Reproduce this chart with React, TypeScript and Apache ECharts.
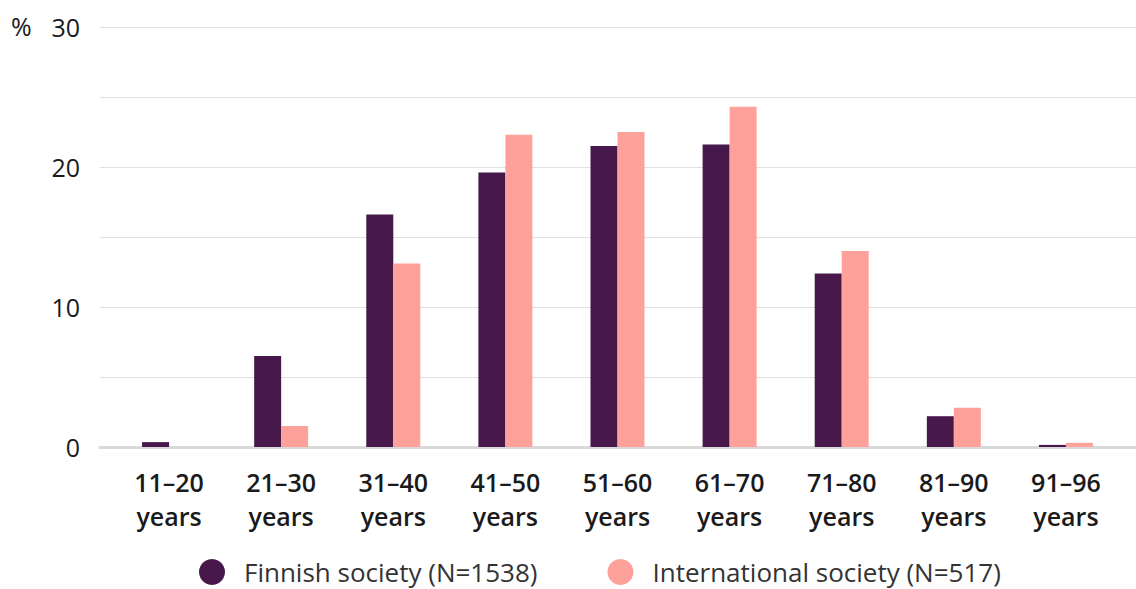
import React, { useEffect, useRef } from "react";
import * as echarts from "echarts";

// Age groups on the x axis
const categories = [
  "11–20\nyears",
  "21–30\nyears",
  "31–40\nyears",
  "41–50\nyears",
  "51–60\nyears",
  "61–70\nyears",
  "71–80\nyears",
  "81–90\nyears",
  "91–96\nyears",
];

// Share of members in each age group, %
const finnishSociety = [0.35, 6.5, 16.6, 19.6, 21.5, 21.6, 12.4, 2.2, 0.15];
const internationalSociety = [0, 1.5, 13.1, 22.3, 22.5, 24.3, 14.0, 2.8, 0.3];

const seriesNames = ["Finnish society (N=1538)", "International society (N=517)"];
const colors = ["#47184b", "#ffa19b"];

const yMin = 0;
const yMax = 30;
const yStep = 5;

const FONT = "'Open Sans', 'Noto Sans', sans-serif";
const FS = 25;

export default function App() {
  const ref = useRef<HTMLDivElement>(null);

  useEffect(() => {
    document.body.style.margin = "0";
    if (!ref.current) return;
    const chart = echarts.init(ref.current, undefined, { renderer: "svg" });

    chart.setOption({
      animation: false,
      backgroundColor: "#ffffff",
      textStyle: { fontFamily: FONT },
      grid: [
        // bars
        { left: 113, right: 14, top: 27, bottom: 142 },
        // gridlines, y labels and baseline spanning the full width
        { left: 100, right: 0, top: 27, bottom: 142 },
      ],
      graphic: [
        {
          type: "text",
          left: 11,
          top: 13,
          style: { text: "%", fontSize: FS, fontFamily: FONT, fill: "#1a1a1a" },
        },
      ],
      legend: {
        top: 559,
        left: 199,
        itemGap: 70,
        itemWidth: 26,
        itemHeight: 26,
        icon: "circle",
        padding: 0,
        textStyle: {
          fontSize: 26,
          color: "#333333",
          fontFamily: FONT,
          padding: [0, 0, 0, 14],
        },
        data: seriesNames,
      },
      xAxis: [
        {
          type: "category",
          gridIndex: 0,
          data: categories,
          axisLine: { show: false },
          axisTick: { show: false },
          axisLabel: {
            fontSize: 25,
            fontWeight: 600,
            color: "#1a1a1a",
            lineHeight: 34,
            margin: 18,
            interval: 0,
            fontFamily: FONT,
          },
        },
        {
          type: "value",
          gridIndex: 1,
          min: 0,
          max: 1,
          axisLine: { show: true, lineStyle: { color: "#d9d9d9", width: 3 } },
          axisTick: { show: false },
          axisLabel: { show: false },
          splitLine: { show: false },
        },
      ],
      yAxis: [
        {
          type: "value",
          gridIndex: 0,
          min: yMin,
          max: yMax,
          interval: yStep,
          axisLine: { show: false },
          axisTick: { show: false },
          axisLabel: { show: false },
          splitLine: { show: false },
        },
        {
          type: "value",
          gridIndex: 1,
          min: yMin,
          max: yMax,
          interval: yStep,
          axisLine: { show: false },
          axisTick: { show: false },
          axisLabel: {
            fontSize: FS,
            color: "#1a1a1a",
            margin: 20,
            fontFamily: FONT,
            formatter: (v: number) => (v % 10 === 0 ? String(v) : ""),
          },
          splitLine: { show: true, lineStyle: { color: "#e0e0e0", width: 1 } },
        },
      ],
      series: [
        {
          name: seriesNames[0],
          type: "bar",
          xAxisIndex: 0,
          yAxisIndex: 0,
          data: finnishSociety,
          barWidth: 27,
          barGap: "0%",
          itemStyle: { color: colors[0] },
          z: 3,
        },
        {
          name: seriesNames[1],
          type: "bar",
          xAxisIndex: 0,
          yAxisIndex: 0,
          data: internationalSociety,
          barWidth: 27,
          barGap: "0%",
          itemStyle: { color: colors[1] },
          z: 3,
        },
      ],
    });

    return () => chart.dispose();
  }, []);

  return <div ref={ref} style={{ width: 1136, height: 589 }} />;
}
